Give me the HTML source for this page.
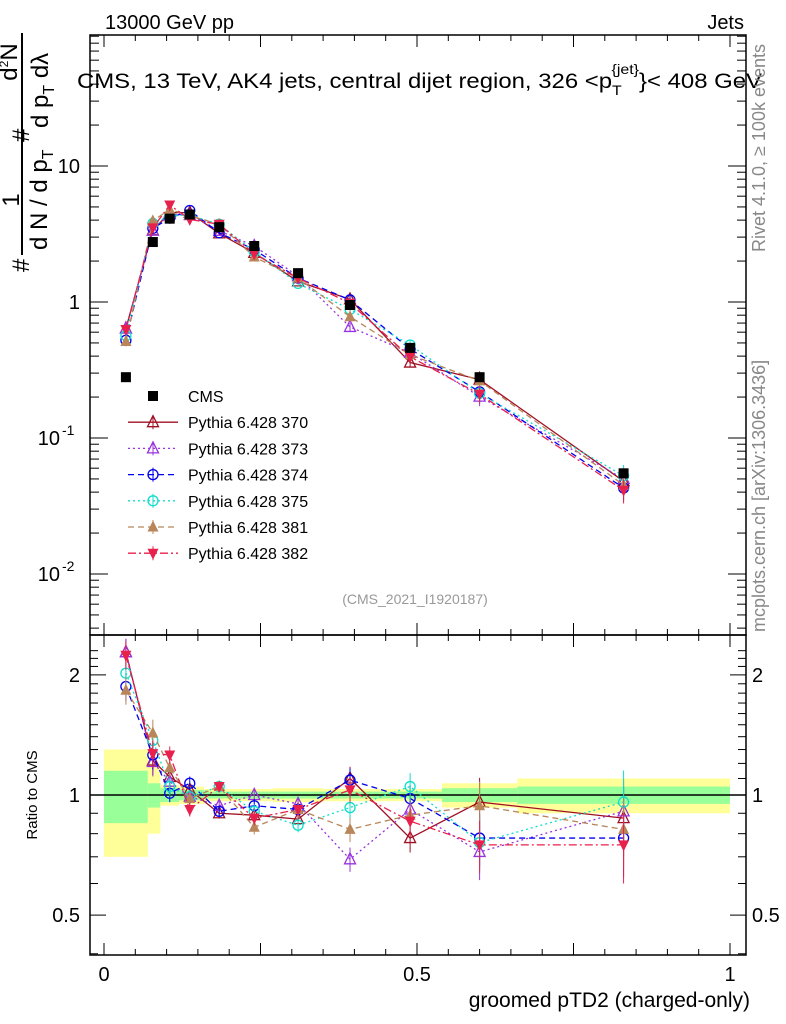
<!DOCTYPE html>
<html><head><meta charset="utf-8"><style>
html,body{margin:0;padding:0;background:#fff;}
svg{display:block;font-family:"Liberation Sans",sans-serif;}
</style></head><body>
<svg id="c" width="786" height="1024" viewBox="0 0 786 1024" xmlns="http://www.w3.org/2000/svg">
<g id="bands"></g>
<g id="grid"></g>
<rect x="90" y="35" width="656" height="600" fill="none" stroke="#000" stroke-width="1.5"/>
<rect x="90" y="635" width="656" height="320" fill="none" stroke="#000" stroke-width="1.5"/>
<g id="axes"></g>
<g id="series"></g>
<g id="legend"></g>
<text x="105" y="29" font-size="20">13000 GeV pp</text>
<text x="744" y="29" font-size="20" text-anchor="end">Jets</text>
<text x="77" y="88" font-size="21" textLength="685" lengthAdjust="spacingAndGlyphs">CMS, 13 TeV, AK4 jets, central dijet region, 326 &lt;p<tspan font-size="14" dy="7">T</tspan><tspan font-size="14" dy="-21" dx="-9">{jet}</tspan><tspan dy="14">}&lt; 408 GeV</tspan></text>
<text x="415" y="604" font-size="14" fill="#999" text-anchor="middle">(CMS_2021_I1920187)</text>
<text transform="translate(765,252) rotate(-90)" font-size="18" fill="#888">Rivet 4.1.0, ≥ 100k events</text>
<text transform="translate(765,632) rotate(-90)" font-size="18" fill="#888">mcplots.cern.ch [arXiv:1306.3436]</text>
<g font-size="24">
<line x1="22" y1="33" x2="22" y2="255" stroke="#000" stroke-width="2"/>
<text transform="translate(29,272) rotate(-90)">#</text>
<text transform="translate(19,200) rotate(-90)" text-anchor="middle">1</text>
<text transform="translate(47,250) rotate(-90)">d N / d p<tspan font-size="16" dy="6">T</tspan></text>
<text transform="translate(29,142) rotate(-90)">#</text>
<text transform="translate(17,62) rotate(-90)" text-anchor="middle">d<tspan font-size="12" dy="-9">2</tspan><tspan dy="9">N</tspan></text>
<text transform="translate(48,128) rotate(-90)">d p<tspan font-size="16" dy="6">T</tspan><tspan dy="-6"> d</tspan>λ</text>
</g>
<text transform="translate(37,795) rotate(-90)" font-size="15" text-anchor="middle">Ratio to CMS</text>
<text x="750" y="1007" font-size="21" text-anchor="end">groomed pTD2 (charged-only)</text>
</svg>
<script>
const xs=[0.035,0.078,0.105,0.137,0.184,0.24,0.31,0.393,0.489,0.6,0.83];
const edges=[0,0.07,0.09,0.12,0.16,0.21,0.27,0.35,0.44,0.54,0.66,1.0];
const bandGreen=[0.15,0.07,0.04,0.03,0.02,0.02,0.02,0.02,0.02,0.04,0.05];
const bandYellow=[0.30,0.2,0.06,0.05,0.035,0.035,0.04,0.035,0.035,0.07,0.1];
const cms=[0.28,2.76,4.1,4.4,3.55,2.58,1.63,0.95,0.46,0.28,0.055];
const r370=[2.28,1.22,1.11,1.03,0.90,0.89,0.87,1.10,0.78,0.96,0.875];
const r373=[2.28,1.21,1.08,0.99,0.94,1.00,0.95,0.69,0.92,0.72,0.91];
const r374=[1.87,1.26,1.01,1.07,0.91,0.94,0.92,1.09,0.98,0.78,0.78];
const r375=[2.02,1.37,1.05,0.99,1.05,0.91,0.84,0.93,1.05,0.76,0.96];
const r381=[1.83,1.43,1.17,0.98,1.05,0.83,0.92,0.82,0.89,0.94,0.82];
const r382=[2.24,1.27,1.26,0.92,1.05,0.875,0.92,1.03,0.86,0.75,0.75];
const relErr=[0.08,0.08,0.05,0.04,0.03,0.04,0.04,0.07,0.08,0.15,0.2];
const legendLabels=["CMS","Pythia 6.428 370","Pythia 6.428 373","Pythia 6.428 374","Pythia 6.428 375","Pythia 6.428 381","Pythia 6.428 382"];

const NS="http://www.w3.org/2000/svg";
const X=v=>104+626*v;
const Y=v=>302-136*Math.log10(v);
const R=v=>795-399*Math.log10(v);
function mk(tag,at,parent){const e=document.createElementNS(NS,tag);for(const k in at)e.setAttribute(k,at[k]);parent.appendChild(e);return e;}
const svg=document.getElementById('c');
const gB=document.getElementById('bands'),gA=document.getElementById('axes'),gS=document.getElementById('series'),gL=document.getElementById('legend');

for(let i=0;i<xs.length;i++){
  const x0=X(edges[i]),x1=X(edges[i+1]);
  let r=mk('rect',{x:x0,y:R(1+bandYellow[i]),width:x1-x0,height:R(1-bandYellow[i])-R(1+bandYellow[i]),fill:'#ffff99'},gB);
  
  
  r=mk('rect',{x:x0,y:R(1+bandGreen[i]),width:x1-x0,height:R(1-bandGreen[i])-R(1+bandGreen[i]),fill:'#99ff99'},gB);
  
  
}
let ln=mk('line',{x1:90,x2:746,y1:R(1),y2:R(1),stroke:'#000','stroke-width':1.5},gB);



for(let i=0;i<=20;i++){const v=i*0.05,px=X(v),big=i%5==0,L=big?12:6;
  mk('line',{x1:px,x2:px,y1:635,y2:635-L,stroke:'#000'},gA);
  mk('line',{x1:px,x2:px,y1:35,y2:35+L,stroke:'#000'},gA);
  mk('line',{x1:px,x2:px,y1:955,y2:955-L,stroke:'#000'},gA);
  mk('line',{x1:px,x2:px,y1:635,y2:635+L,stroke:'#000'},gA);
}
[["0",0],["0.5",0.5],["1",1]].forEach(([t,v])=>{const e=mk('text',{x:X(v),y:981,'font-size':20,'text-anchor':'middle'},gA);e.textContent=t;
  
  });
for(let d=-3;d<=1;d++)for(let m=1;m<10;m++){const v=m*Math.pow(10,d),py=Y(v);if(py<35||py>635)continue;const L=m==1?18:9;
  mk('line',{x1:90,x2:90+L,y1:py,y2:py,stroke:'#000'},gA);mk('line',{x1:746,x2:746-L,y1:py,y2:py,stroke:'#000'},gA);}
const yl=[[10,"10"],[1,"1"]];
yl.forEach(([v,t])=>{const e=mk('text',{x:80,y:Y(v)+7,'font-size':20,'text-anchor':'end'},gA);e.textContent=t;
  
  });
[[0.1,"-1"],[0.01,"-2"]].forEach(([v,p])=>{const e=mk('text',{x:60,y:Y(v)+7,'font-size':20,'text-anchor':'end'},gA);e.textContent="10";
  
  
  const s=mk('text',{x:62,y:Y(v)-3,'font-size':14},gA);s.textContent=p;});
for(let v=0.4;v<=2.4;v+=0.1){const py=R(v);if(py<635||py>955)continue;const major=[0.5,1,2].some(q=>Math.abs(q-v)<1e-6);const L=major?16:8;
  mk('line',{x1:90,x2:90+L,y1:py,y2:py,stroke:'#000'},gA);mk('line',{x1:746,x2:746-L,y1:py,y2:py,stroke:'#000'},gA);}
[[2,"2"],[1,"1"],[0.5,"0.5"]].forEach(([v,t])=>{let e=mk('text',{x:80,y:R(v)+7,'font-size':20,'text-anchor':'end'},gA);e.textContent=t;
  
  
  e=mk('text',{x:752,y:R(v)+7,'font-size':20},gA);e.textContent=t;});

function marker(g,type,cx,cy,col){
  const s=5.5;
  if(type=='sq')return mk('rect',{x:cx-5,y:cy-5,width:10,height:10,fill:'#000'},g);
  if(type=='to')return mk('polygon',{points:`${cx},${cy-s-1} ${cx-s},${cy+s-1} ${cx+s},${cy+s-1}`,fill:'none',stroke:col,'stroke-width':1.3},g);
  if(type=='tf')return mk('polygon',{points:`${cx},${cy-s-1} ${cx-s},${cy+s-1} ${cx+s},${cy+s-1}`,fill:col},g);
  if(type=='td')return mk('polygon',{points:`${cx},${cy+s+1} ${cx-s},${cy-s+1} ${cx+s},${cy-s+1}`,fill:col},g);
  return mk('circle',{cx:cx,cy:cy,r:5,fill:'none',stroke:col,'stroke-width':1.3},g);
}
const series=[
 {name:'370',r:r370,col:'#a01025',dash:'',m:'to'},
 {name:'373',r:r373,col:'#9933dd',dash:'2,3',m:'to'},
 {name:'374',r:r374,col:'#0000ee',dash:'6,4',m:'c'},
 {name:'375',r:r375,col:'#11ddcc',dash:'2,3',m:'c'},
 {name:'381',r:r381,col:'#b8865a',dash:'6,4',m:'tf'},
 {name:'382',r:r382,col:'#e8204c',dash:'8,3,2,3',m:'td'}];
series.forEach(s=>{
  const g=mk('g',{},gS);
  
  
  const top=xs.map((x,i)=>[X(x),Y(cms[i]*s.r[i])]);
  const rat=xs.map((x,i)=>[X(x),R(s.r[i])]);
  mk('polyline',{points:top.map(p=>p.join(',')).join(' '),fill:'none',stroke:s.col,'stroke-width':1.3,'stroke-dasharray':s.dash},g);
  mk('polyline',{points:rat.map(p=>p.join(',')).join(' '),fill:'none',stroke:s.col,'stroke-width':1.3,'stroke-dasharray':s.dash},g);
  xs.forEach((x,i)=>{
    const v=cms[i]*s.r[i],e=relErr[i];
    mk('line',{x1:X(x),x2:X(x),y1:Y(v*(1+e)),y2:Y(v*(1-e)),stroke:s.col},g);
    mk('line',{x1:X(x),x2:X(x),y1:R(s.r[i]*(1+e)),y2:R(s.r[i]*(1-e)),stroke:s.col},g);
    const m1=marker(g,s.m,X(x),Y(v),s.col);
    
    
    const m2=marker(g,s.m,X(x),R(s.r[i]),s.col);
    
    
  });
});
const gc=mk('g',{},gS);


xs.forEach((x,i)=>{const m=marker(gc,'sq',X(x),Y(cms[i]),'#000');
  
  });

legendLabels.forEach((t,i)=>{
  const y=396+i*26.2;
  const g=mk('g',{},gL);
  
  
  if(i==0){marker(g,'sq',153,y,'#000');}
  else{const s=series[i-1];mk('line',{x1:128,x2:178,y1:y,y2:y,stroke:s.col,'stroke-width':1.3,'stroke-dasharray':s.dash},g);
    mk('line',{x1:153,x2:153,y1:y-7,y2:y+7,stroke:s.col},g);marker(g,s.m,153,y,s.col);}
  const e=mk('text',{x:188,y:y+6,'font-size':16},g);e.textContent=t;
});
</script>
</body></html>
